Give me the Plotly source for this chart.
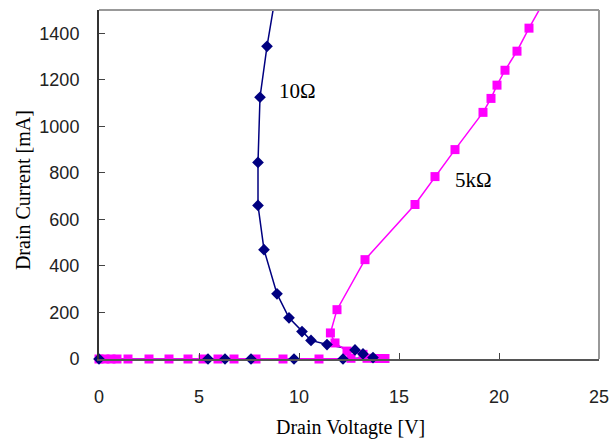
import plotly.graph_objects as go

# 10 Ohm series (drain voltage V, drain current mA)
v_10 = [0.0, 5.45, 6.3, 7.6, 9.75, 12.2, 13.7, 13.2, 12.8, 11.4, 10.6, 10.15, 9.5, 8.9, 8.25, 7.95, 7.95, 8.05, 8.4, 8.9]
i_10 = [0, 0, 0, 0, 0, 0, 6, 22, 39, 62, 80, 118, 177, 280, 470, 660, 845, 1125, 1344, 1600]

# 5 kOhm series
v_5k = [0.0, 0.3, 0.6, 0.9, 1.45, 2.5, 3.5, 4.45, 5.2, 5.95, 6.75, 7.85, 9.2, 11.0,
        12.6, 13.4, 13.8, 14.1, 14.3, 13.2, 12.4, 11.8, 11.57, 11.9, 13.3, 15.8, 16.8,
        17.8, 19.2, 19.6, 19.9, 20.3, 20.9, 21.5, 22.4]
i_5k = [0, 0, 0, 0, 0, 0, 0, 0, 0, 0, 0, 0, 0, 0,
        3, 3, 2, 2, 2, 20, 34, 69, 112, 212, 427, 664, 784,
        900, 1060, 1120, 1177, 1241, 1323, 1422, 1560]

x_ticks = [0, 5, 10, 15, 20, 25]
y_ticks = [0, 200, 400, 600, 800, 1000, 1200, 1400]

navy = "#000080"
magenta = "#FF00FF"

fig = go.Figure()
# 10 ohm line (under the 5k series)
fig.add_trace(go.Scatter(x=v_10, y=i_10, mode="lines",
                         line=dict(color=navy, width=1.5),
                         cliponaxis=False, showlegend=False))
fig.add_trace(go.Scatter(x=v_5k, y=i_5k, mode="lines+markers",
                         line=dict(color=magenta, width=1.5),
                         marker=dict(symbol="square", size=9, color=magenta),
                         cliponaxis=False, showlegend=False))
# 10 ohm markers on top
fig.add_trace(go.Scatter(x=v_10, y=i_10, mode="markers",
                         marker=dict(symbol="diamond", size=9, color=navy),
                         cliponaxis=False, showlegend=False))

serif = "Liberation Serif"
sans = "Liberation Sans"

fig.add_annotation(x=9.9, y=1150, text="10Ω", showarrow=False,
                   font=dict(family=serif, size=21, color="black"))
fig.add_annotation(x=18.7, y=771, text="5kΩ", showarrow=False,
                   font=dict(family=serif, size=21, color="black"))
fig.add_annotation(xref="paper", yref="paper", x=-0.152, y=0.484,
                   text="Drain Current [mA]", textangle=-90, showarrow=False,
                   xanchor="center", yanchor="middle",
                   font=dict(family=serif, size=20, color="black"))
fig.add_annotation(xref="paper", yref="paper", x=0.502, y=-0.195,
                   text="Drain Voltagte [V]", showarrow=False,
                   xanchor="center", yanchor="middle",
                   font=dict(family=serif, size=20, color="black"))

fig.update_xaxes(range=[0, 25], tickvals=x_ticks, ticks="inside", ticklen=6,
                 tickcolor="#444", showgrid=False, zeroline=False,
                 showline=True, linecolor="#555", linewidth=2, mirror=False,
                 tickfont=dict(family=sans, size=18, color="#222"),
                 ticklabelstandoff=20, automargin=False)
fig.update_yaxes(range=[0, 1500], tickvals=y_ticks, ticks="inside", ticklen=6,
                 tickcolor="#444", showgrid=False, zeroline=False,
                 showline=True, linecolor="#333", linewidth=2, mirror=False,
                 tickfont=dict(family=sans, size=18, color="#222"),
                 ticklabelstandoff=14, automargin=False)

# grey frame on top and right
fig.add_shape(type="line", xref="paper", yref="paper", x0=0, x1=1, y0=1, y1=1,
              line=dict(color="#999", width=2))
fig.add_shape(type="line", xref="paper", yref="paper", x0=1, x1=1, y0=0, y1=1,
              line=dict(color="#999", width=2))

fig.update_layout(width=610, height=439, margin=dict(l=99, r=11, t=10, b=80),
                  plot_bgcolor="white", paper_bgcolor="white")

fig.write_html("out.html")
